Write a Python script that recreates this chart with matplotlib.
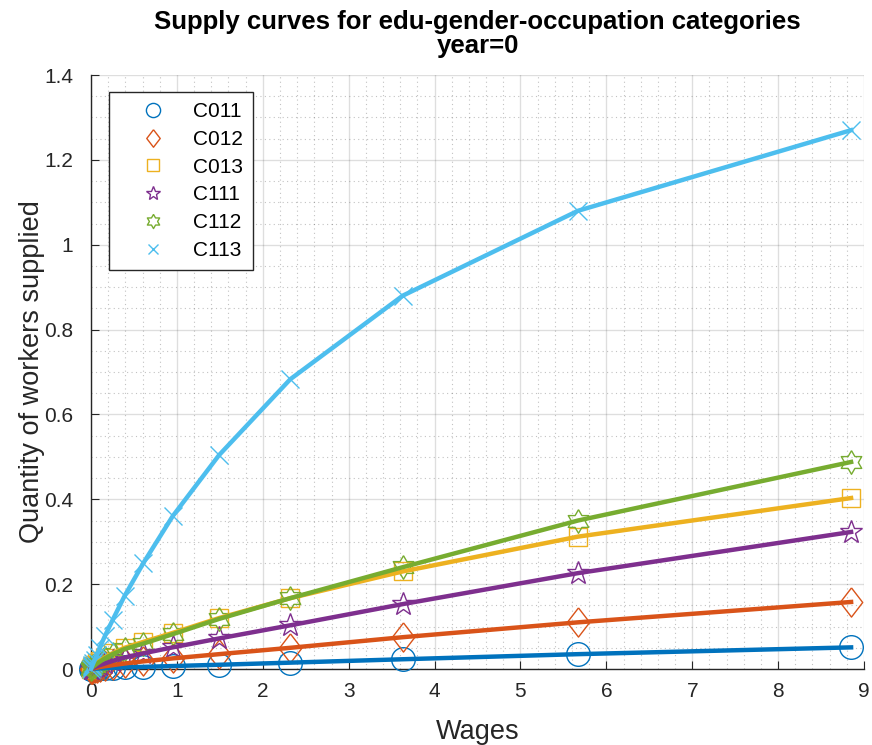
import numpy as np
import matplotlib
matplotlib.use("Agg")
import matplotlib.pyplot as plt
from matplotlib.ticker import MultipleLocator, FormatStrFormatter

plt.rcParams['font.family'] = ['Liberation Sans', 'DejaVu Sans']

# wages (x) and supply (y) per category
wages = [0, 0.007, 0.011, 0.017, 0.027, 0.042, 0.065, 0.10, 0.16, 0.25,
         0.39, 0.61, 0.95, 1.49, 2.32, 3.63, 5.67, 8.85]
c011 = [0, 0.0001, 0.0002, 0.0003, 0.0004, 0.0006, 0.0009, 0.0014, 0.002, 0.003,
        0.004, 0.005, 0.007, 0.010, 0.015, 0.023, 0.035, 0.051]
c012 = [0, 0.0004, 0.0006, 0.0009, 0.0013, 0.002, 0.003, 0.0045, 0.0065, 0.009,
        0.013, 0.018, 0.025, 0.035, 0.050, 0.075, 0.110, 0.158]
c013 = [0, 0.002, 0.003, 0.004, 0.006, 0.009, 0.013, 0.019, 0.027, 0.037,
        0.050, 0.064, 0.085, 0.120, 0.167, 0.230, 0.312, 0.403]
c111 = [0, 0.001, 0.0015, 0.002, 0.003, 0.0045, 0.0065, 0.009, 0.013, 0.019,
        0.027, 0.037, 0.051, 0.072, 0.103, 0.153, 0.226, 0.323]
c112 = [0, 0.002, 0.003, 0.004, 0.006, 0.008, 0.012, 0.017, 0.025, 0.035,
        0.047, 0.060, 0.082, 0.118, 0.167, 0.240, 0.350, 0.488]
c113 = [0, 0.004, 0.006, 0.009, 0.014, 0.021, 0.032, 0.050, 0.077, 0.115,
        0.172, 0.250, 0.360, 0.504, 0.683, 0.880, 1.080, 1.270]

labels = ['C011', 'C012', 'C013', 'C111', 'C112', 'C113']
series = [c011, c012, c013, c111, c112, c113]
colors = ['#0072BD', '#D95319', '#EDB120', '#7E2F8E', '#77AC30', '#4DBEEE']

# marker shapes (matlab style)
diamond = [(0, 1), (0.77, 0), (0, -1), (-0.77, 0), (0, 1)]
ang = np.pi / 2 + np.arange(12) * np.pi / 6
rad = np.where(np.arange(12) % 2 == 0, 1.0, 0.577)
hexagram = list(zip(rad * np.cos(ang), rad * np.sin(ang)))
hexagram.append(hexagram[0])
markers = ['o', diamond, 's', '*', hexagram, 'x']
msizes = [17, 21, 13.5, 17, 17, 13]

fig = plt.figure(figsize=(8.72, 7.45), dpi=100)
ax = fig.add_axes([0.1044, 0.102, 0.8864, 0.7973])

for y, lab, c, m, ms in zip(series, labels, colors, markers, msizes):
    ax.plot(wages, y, linestyle='none', marker=m, markersize=ms,
            markerfacecolor='none', markeredgecolor=c, markeredgewidth=1.0,
            label=lab, clip_on=False, zorder=3)
for y, c in zip(series, colors):
    ax.plot(wages, y, color=c, linewidth=3.2, zorder=4, clip_on=False)

ax.set_xlim(0, 9)
ax.set_ylim(0, 1.4)
ax.xaxis.set_major_locator(MultipleLocator(1))
ax.xaxis.set_minor_locator(MultipleLocator(0.2))
ax.yaxis.set_major_locator(MultipleLocator(0.2))
ax.yaxis.set_minor_locator(MultipleLocator(0.05))
ax.yaxis.set_major_formatter(FormatStrFormatter('%g'))
ax.xaxis.set_major_formatter(FormatStrFormatter('%g'))

ax.grid(which='major', color='#262626', alpha=0.15, linewidth=1)
ax.grid(which='minor', color='#262626', alpha=0.28, linestyle=(0, (1, 3)), linewidth=0.8)
ax.set_axisbelow(True)

for s in ['top', 'right']:
    ax.spines[s].set_visible(False)
for s in ['left', 'bottom']:
    ax.spines[s].set_color('#262626')
    ax.spines[s].set_linewidth(1)
ax.tick_params(which='major', direction='in', length=6, labelsize=15, colors='#262626')
ax.tick_params(axis='y', which='major', pad=13)
ax.tick_params(axis='x', which='major', pad=9.5)
ax.tick_params(which='minor', length=0)

ax.set_xlabel('Wages', fontsize=19.5, color='#262626', labelpad=13)
ax.set_ylabel('Quantity of workers supplied', fontsize=19.5, color='#262626', labelpad=-1)
ax.set_title('Supply curves for edu-gender-occupation categories\nyear=0',
             fontsize=18.5, fontweight='bold', linespacing=1.0, pad=16)

leg = ax.legend(loc='upper left', bbox_to_anchor=(0.023, 0.972), borderaxespad=0,
                fontsize=15, markerscale=0.6, fancybox=False, framealpha=1,
                edgecolor='#262626', handlelength=3.2, handletextpad=0.32,
                labelspacing=0.42, borderpad=0.5)
leg.get_frame().set_linewidth(1)

fig.savefig('out.png', dpi=100)
